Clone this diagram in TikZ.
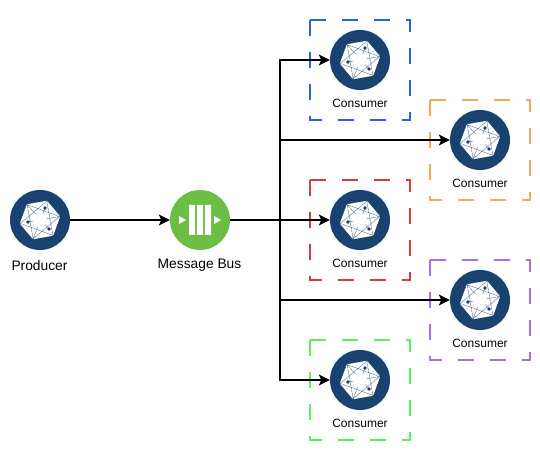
\documentclass[tikz,border=0pt]{standalone}
\usepackage{fontspec}
\setmainfont{Liberation Sans}
\usetikzlibrary{arrows.meta,positioning}
\definecolor{serviceBlue}{RGB}{26,66,112}
\definecolor{busGreen}{RGB}{108,190,69}
\definecolor{boxBlue}{RGB}{38,100,220}
\definecolor{boxOrange}{RGB}{242,170,90}
\definecolor{boxRed}{RGB}{214,60,60}
\definecolor{boxPurple}{RGB}{170,110,230}
\definecolor{boxGreen}{RGB}{90,240,90}
\tikzset{
  service/.style={circle, fill=serviceBlue, minimum size=60pt, inner sep=0pt},
  bus/.style={circle, fill=busGreen, minimum size=60pt, inner sep=0pt},
  biglabel/.style={font=\fontsize{13.8pt}{16pt}\selectfont, inner sep=0pt},
  smalllabel/.style={font=\fontsize{12pt}{14pt}\selectfont, inner sep=0pt},
  flowline/.style={draw=black, line width=1.5pt, -{Stealth[length=11pt,width=11pt,inset=2.5pt]}},
  groupbox/.style={line width=1.5pt, dash pattern=on 16pt off 16pt},
  hexmark/.pic={
    \fill[white, rounded corners=1pt]
      (10:20.5) -- (70:20.5) -- (130:20.5) -- (190:20.5) -- (250:20.5) -- (310:20.5) -- cycle;
    \draw[serviceBlue!70!white, line width=0.4pt]
      (10:20) -- (130:20) -- (250:20) -- cycle
      (70:20) -- (190:20) -- (310:20) -- cycle
      (5,12) -- (250:20)
      (-12,-2) -- (10:20)
      (9,-9) -- (130:20);
    \fill[white] (0,0) circle (7);
    \fill[serviceBlue] (5,12) circle (1.9) (-12,-2) circle (1.9) (9,-9) circle (1.9);
  }
}
\begin{document}
\begin{tikzpicture}[x=1pt, y=1pt]
  \useasboundingbox (0,0) rectangle (540,460);

  \foreach \px/\py/\boxcolor in {360/400/boxBlue, 480/320/boxOrange, 360/240/boxRed,
                                 480/160/boxPurple, 360/80/boxGreen}
    \draw[groupbox, draw=\boxcolor]
      (\px-50,\py+40) -- ++(100,0) -- ++(0,-100) -- ++(-100,0) -- cycle;

  \node[service] (producer) at (40,240) {};
  \node[bus] (msgbus) at (200,240) {};
  \node[service] (consumerA) at (360,400) {};
  \node[service] (consumerB) at (480,320) {};
  \node[service] (consumerC) at (360,240) {};
  \node[service] (consumerD) at (480,160) {};
  \node[service] (consumerE) at (360,80) {};

  \coordinate (trunk) at (280,240);
  \draw[flowline] (producer) -- (msgbus);
  \draw[flowline] (msgbus) -- (consumerC);
  \foreach \target in {consumerA,consumerB,consumerD,consumerE}
    \draw[flowline] (trunk) |- (\target);

  \foreach \target in {producer,consumerA,consumerB,consumerC,consumerD,consumerE}
    \pic at (\target) {hexmark};

  \fill[white] (189,225) rectangle ++(6,30) (197,225) rectangle ++(6,30) (205,225) rectangle ++(6,30);
  \fill[white] (179,236) -- (186,240) -- (179,244) -- cycle (214,236) -- (221,240) -- (214,244) -- cycle;

  \node[biglabel] (producerlabel) at (39.5,194.5) {Producer};
  \node[biglabel] (msgbuslabel) at (199.5,194.5) {Message Bus};
  \foreach \target in {consumerA,consumerB,consumerC,consumerD,consumerE}
    \node[smalllabel, below=39pt of \target.center] (\target label) {Consumer};
\end{tikzpicture}
\end{document}
